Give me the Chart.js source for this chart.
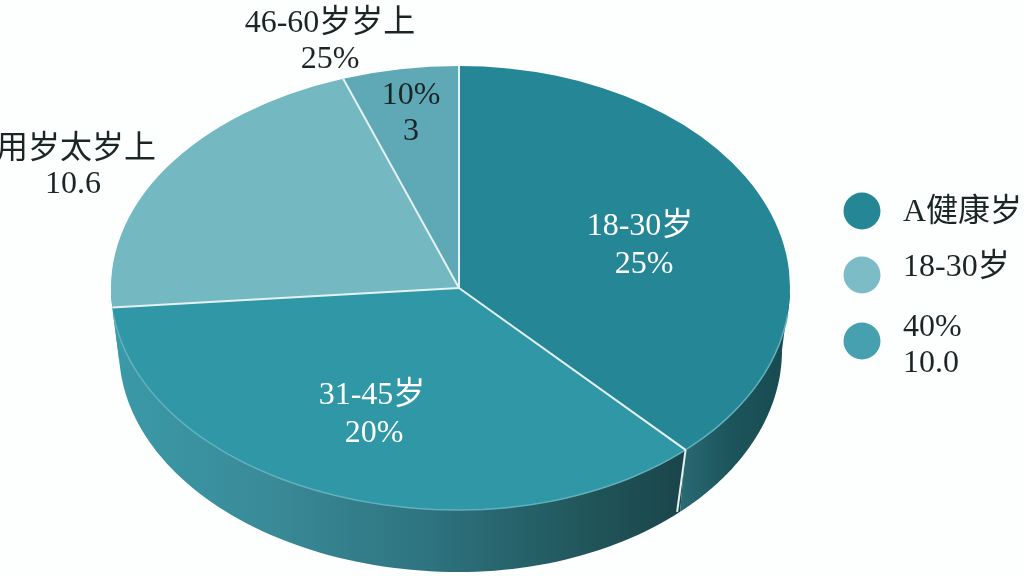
<!DOCTYPE html>
<html>
<head>
<meta charset="utf-8">
<title>pie</title>
<script src="https://cdn.jsdelivr.net/npm/chart.js@4"></script>
<style>
  body { margin: 0; background: #fdfefe; }
  canvas { display: block; }
</style>
</head>
<body>
<canvas id="myChart" width="1024" height="576"></canvas>
<script>
'use strict';

// ======= data =======
var categories = ['18-30岁', '31-45岁', '用岁太岁上', '46-60岁岁上'];
var shares = [38.0, 35.6, 21.0, 5.4];
var sliceNotes = ['25%', '20%', '10.6', '25%'];
var smallSliceLabel = ['10%', '3'];
var legendLabels = [['A健康岁'], ['18-30岁'], ['40%', '10.0']];

// ======= styles =======
var sliceColors = ['#258696', '#3097a7', '#74b8c2', '#5fa9b7'];
var legendColors = ['#258696', '#7cbcc6', '#46a0b0'];
var textDark = '#1c2525';
var font = '32px "Liberation Serif", "Noto Sans CJK SC", serif';

// ellipse of the top face, left and right halves are a bit different
var cx = 459, cy = 288, ry = 222, rxL = 348, rxR = 331;
// bottom edge of the wall
var cyB = 350, rxLB = 340, rxRB = 323;

function pointOn(angle, centerY, left, right) {
  var c = Math.cos(angle);
  return [cx + c * (c < 0 ? left : right), centerY + Math.sin(angle) * ry];
}

function edgePath(ctx, from, to, centerY, left, right, first) {
  var steps = 80;
  for (var i = 0; i <= steps; i++) {
    var p = pointOn(from + (to - from) * i / steps, centerY, left, right);
    if (i === 0 && first) ctx.moveTo(p[0], p[1]);
    else ctx.lineTo(p[0], p[1]);
  }
}

function wallGradient(ctx, index) {
  var g;
  if (index === 0) {
    g = ctx.createLinearGradient(678, 0, 790, 0);
    g.addColorStop(0, '#2a6b74');
    g.addColorStop(0.45, '#1d555c');
    g.addColorStop(1, '#174a50');
  } else {
    g = ctx.createLinearGradient(112, 0, 680, 0);
    g.addColorStop(0, '#3a9aa8');
    g.addColorStop(0.28, '#3a8a98');
    g.addColorStop(0.55, '#2e7480');
    g.addColorStop(0.85, '#205459');
    g.addColorStop(1, '#1a464b');
  }
  return g;
}

var piePlugin = {
  id: 'flatPie',
  beforeDatasetsDraw: function (chart) {
    var ctx = chart.ctx;
    var arcs = chart.getDatasetMeta(0).data;
    // side walls
    arcs.forEach(function (arc, i) {
      var a = Math.max(arc.startAngle, 0);
      var b = Math.min(arc.endAngle, Math.PI);
      if (b <= a) return;
      ctx.beginPath();
      edgePath(ctx, a, b, cy, rxL, rxR, true);
      edgePath(ctx, b, a, cyB, rxLB, rxRB, false);
      ctx.closePath();
      ctx.fillStyle = wallGradient(ctx, i);
      ctx.fill();
    });
  },
  beforeDatasetDraw: function (chart) {
    var ctx = chart.ctx;
    var arcs = chart.getDatasetMeta(0).data;
    [[0, cx + 1, rxL], [cx - 1, 1024, rxR]].forEach(function (part) {
      ctx.save();
      ctx.beginPath();
      ctx.rect(part[0], 0, part[1] - part[0], 576);
      ctx.clip();
      ctx.translate(cx, cy);
      ctx.scale(part[2] / arcs[0].outerRadius, ry / arcs[0].outerRadius);
      ctx.translate(-arcs[0].x, -arcs[0].y);
      arcs.forEach(function (arc) { arc.draw(ctx); });
      ctx.restore();
    });
    return false;
  },
  afterDatasetsDraw: function (chart) {
    var ctx = chart.ctx;
    var arcs = chart.getDatasetMeta(0).data;

    // light rim on the front edge
    ctx.beginPath();
    edgePath(ctx, 0.12, Math.PI - 0.12, cy, rxL, rxR, true);
    ctx.strokeStyle = '#62b0bc';
    ctx.lineWidth = 1.5;
    ctx.stroke();

    // white lines between slices
    ctx.strokeStyle = '#e4f2f4';
    ctx.lineWidth = 2;
    arcs.forEach(function (arc) {
      var p = pointOn(arc.startAngle, cy, rxL, rxR);
      ctx.beginPath();
      ctx.moveTo(cx, cy);
      ctx.lineTo(p[0], p[1]);
      ctx.stroke();
    });
    var seam = arcs[0].endAngle;
    var top = pointOn(seam, cy, rxL, rxR);
    var bottom = pointOn(seam, cyB, rxLB, rxRB);
    ctx.beginPath();
    ctx.moveTo(top[0], top[1]);
    ctx.lineTo(bottom[0] - 3, bottom[1]);
    ctx.stroke();

    // slice labels
    ctx.font = font;
    ctx.textAlign = 'center';
    ctx.textBaseline = 'middle';
    ctx.fillStyle = '#ffffff';
    ctx.fillText(categories[0], 640, 227);
    ctx.fillText(sliceNotes[0], 644, 265);
    ctx.fillText(categories[1], 372, 396);
    ctx.fillText(sliceNotes[1], 374, 434);
    ctx.fillStyle = textDark;
    ctx.fillText(categories[2], 76, 150);
    ctx.fillText(sliceNotes[2], 73, 185);
    ctx.fillText(categories[3], 330, 24);
    ctx.fillText(sliceNotes[3], 330, 60);
    ctx.fillText(smallSliceLabel[0], 411, 96);
    ctx.fillText(smallSliceLabel[1], 411, 132);

    // legend
    var legendY = [211, 275, 341];
    var lineY = [[213], [268], [328, 364]];
    ctx.textAlign = 'left';
    legendLabels.forEach(function (lines, i) {
      ctx.beginPath();
      ctx.arc(862, legendY[i], 18.5, 0, Math.PI * 2);
      ctx.fillStyle = legendColors[i];
      ctx.fill();
      ctx.fillStyle = textDark;
      lines.forEach(function (line, j) {
        ctx.fillText(line, 903, lineY[i][j]);
      });
    });
  }
};

// ======= chart =======
var chart = new Chart(document.getElementById('myChart').getContext('2d'), {
  type: 'pie',
  data: {
    labels: categories,
    datasets: [{
      data: shares,
      backgroundColor: sliceColors,
      borderWidth: 0
    }]
  },
  options: {
    responsive: false,
    animation: false,
    devicePixelRatio: 1,
    plugins: {
      legend: { display: false },
      tooltip: { enabled: false }
    }
  },
  plugins: [piePlugin]
});
</script>
</body>
</html>
